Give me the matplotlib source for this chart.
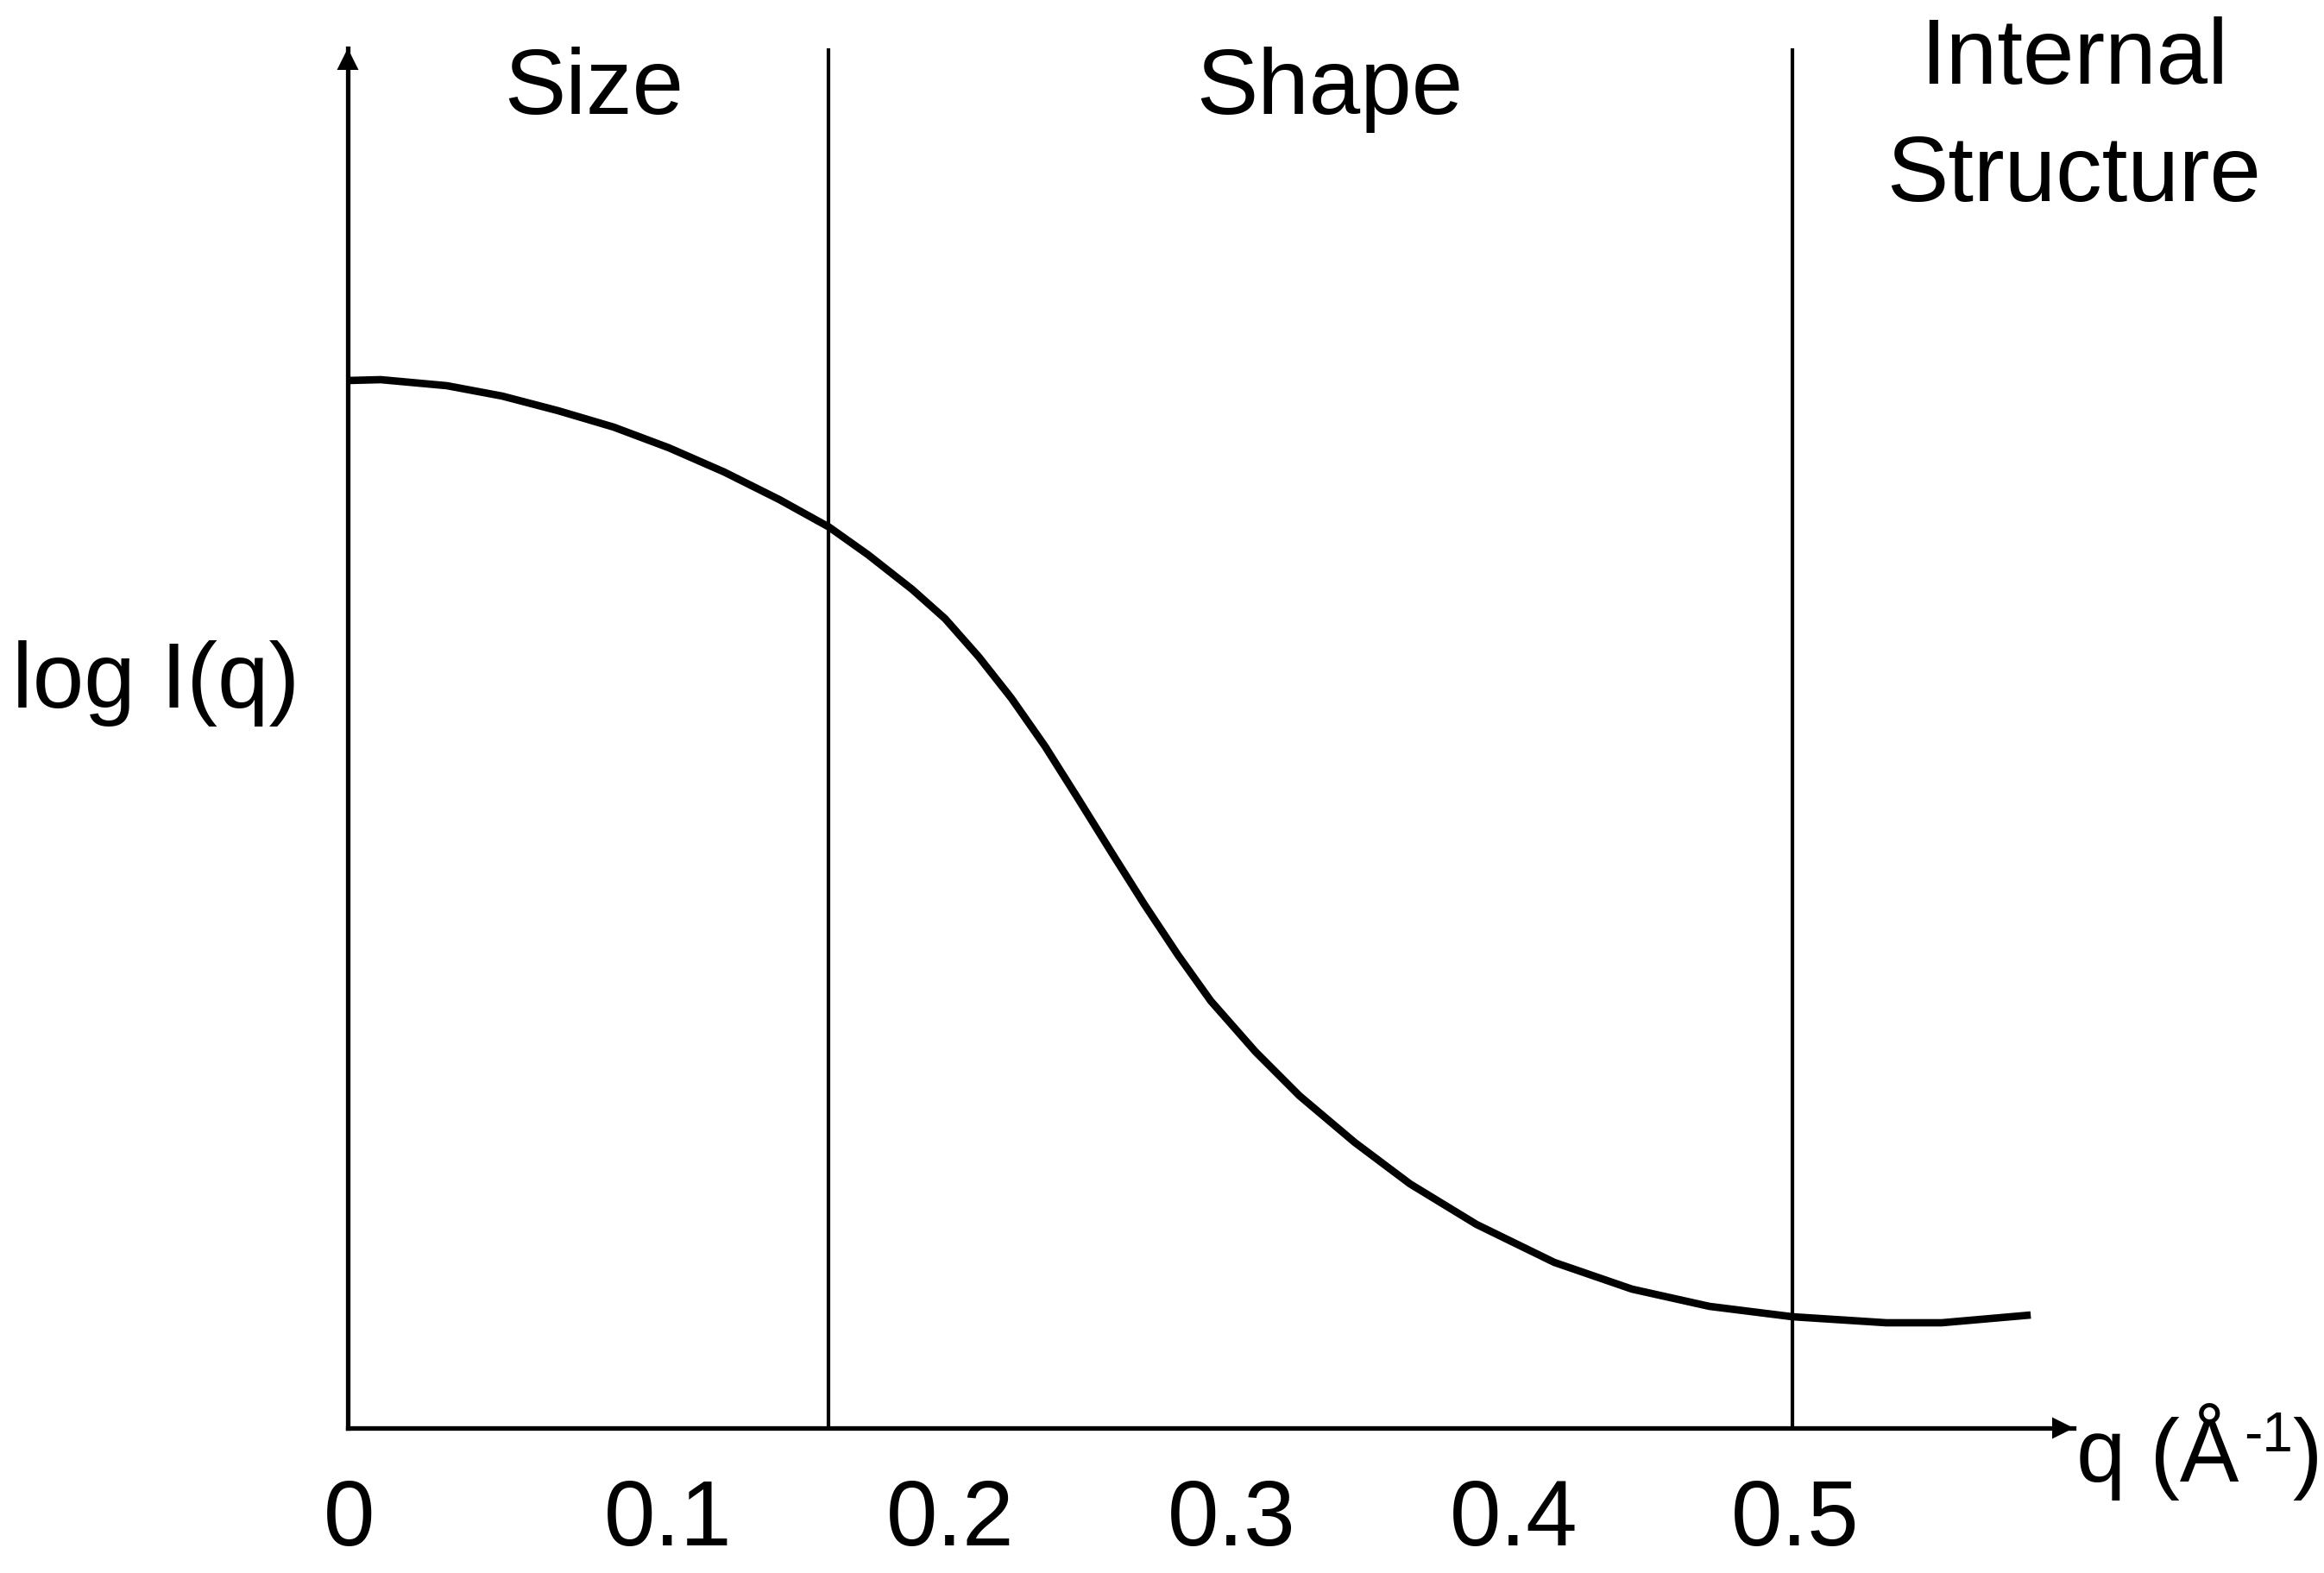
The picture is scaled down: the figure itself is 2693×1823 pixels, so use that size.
import matplotlib
matplotlib.use("Agg")
from matplotlib import pyplot as plt

plt.rcParams['font.family'] = ['Liberation Sans', 'DejaVu Sans']

# scattering curve, q in 1/A, intensity in arbitrary log units
q_vals = [-0.0138, -0.0021, 0.0214, 0.0410, 0.0609, 0.0806, 0.1002, 0.1198,
          0.1394, 0.1571, 0.1709, 0.1865, 0.1982, 0.2101, 0.2217, 0.2337,
          0.2453, 0.2573, 0.2689, 0.2809, 0.2925, 0.3084, 0.3240, 0.3436,
          0.3632, 0.3868, 0.4144, 0.4420, 0.4695, 0.4989, 0.5323, 0.5519,
          0.5835]
logI_vals = [12.14, 12.15, 12.08, 11.96, 11.79, 11.60, 11.36, 11.08,
             10.76, 10.44, 10.12, 9.72, 9.38, 8.94, 8.46, 7.90,
             7.30, 6.67, 6.07, 5.48, 4.95, 4.36, 3.85, 3.31,
             2.83, 2.36, 1.92, 1.61, 1.41, 1.29, 1.22, 1.22,
             1.31]

# region boundaries and region names
boundaries = [0.1568, 0.4989]
region_names = ["Size", "Shape"]
region_x = [0.0735, 0.3348]

tick_pos = [-0.0132, 0.1, 0.2, 0.3, 0.4, 0.5]
tick_labels = ["0", "0.1", "0.2", "0.3", "0.4", "0.5"]

FS = 77
LW_AX = 3.8

fig = plt.figure(figsize=(26.93, 18.24), dpi=100)
ax = fig.add_axes([403 / 2693, 168 / 1824, 2000 / 2693, 1599 / 1824])
ax.set_xlim(-0.01378, 0.59877)
ax.set_ylim(0, 15.99)

for side in ['top', 'right']:
    ax.spines[side].set_visible(False)
for side in ['left', 'bottom']:
    ax.spines[side].set_linewidth(LW_AX)
    ax.spines[side].set_color('black')

# arrow heads on both axes
head = dict(arrowstyle='-|>,head_length=0.6,head_width=0.3', lw=0, fc='black',
            mutation_scale=30, shrinkA=0, shrinkB=0)
ax.annotate('', xy=(1, 0), xycoords='axes fraction', xytext=(0.97, 0),
            arrowprops=head, annotation_clip=False)
ax.annotate('', xy=(0, 1), xycoords='axes fraction', xytext=(0, 0.96),
            arrowprops=head, annotation_clip=False)

for b in boundaries:
    ax.axvline(b, color='black', lw=3.0)

ax.plot(q_vals, logI_vals, color='black', lw=6.2, clip_on=False,
        solid_capstyle='butt', solid_joinstyle='round')

ax.set_xticks(tick_pos, labels=tick_labels)
ax.tick_params(axis='x', length=0, pad=41, labelsize=FS)
ax.set_yticks([])

for name, x in zip(region_names, region_x):
    ax.text(x, 15.24, name, ha='center', va='baseline', fontsize=FS)
ax.text(0.5988, 15.59, "Internal", ha='center', va='baseline', fontsize=FS)
ax.text(0.5988, 14.23, "Structure", ha='center', va='baseline', fontsize=FS)

ax.text(-0.1329, 8.36, "log I(q)", ha='left', va='baseline', fontsize=FS)

# x-axis unit label
ax.text(0.5997, -0.61, "q (Å", ha='left', va='baseline', fontsize=74, clip_on=False)
ax.text(0.6591, -0.26, "-1", ha='left', va='baseline', fontsize=46, clip_on=False)
ax.text(0.6763, -0.61, ")", ha='left', va='baseline', fontsize=74, clip_on=False)

fig.savefig("out.png", dpi=100)
